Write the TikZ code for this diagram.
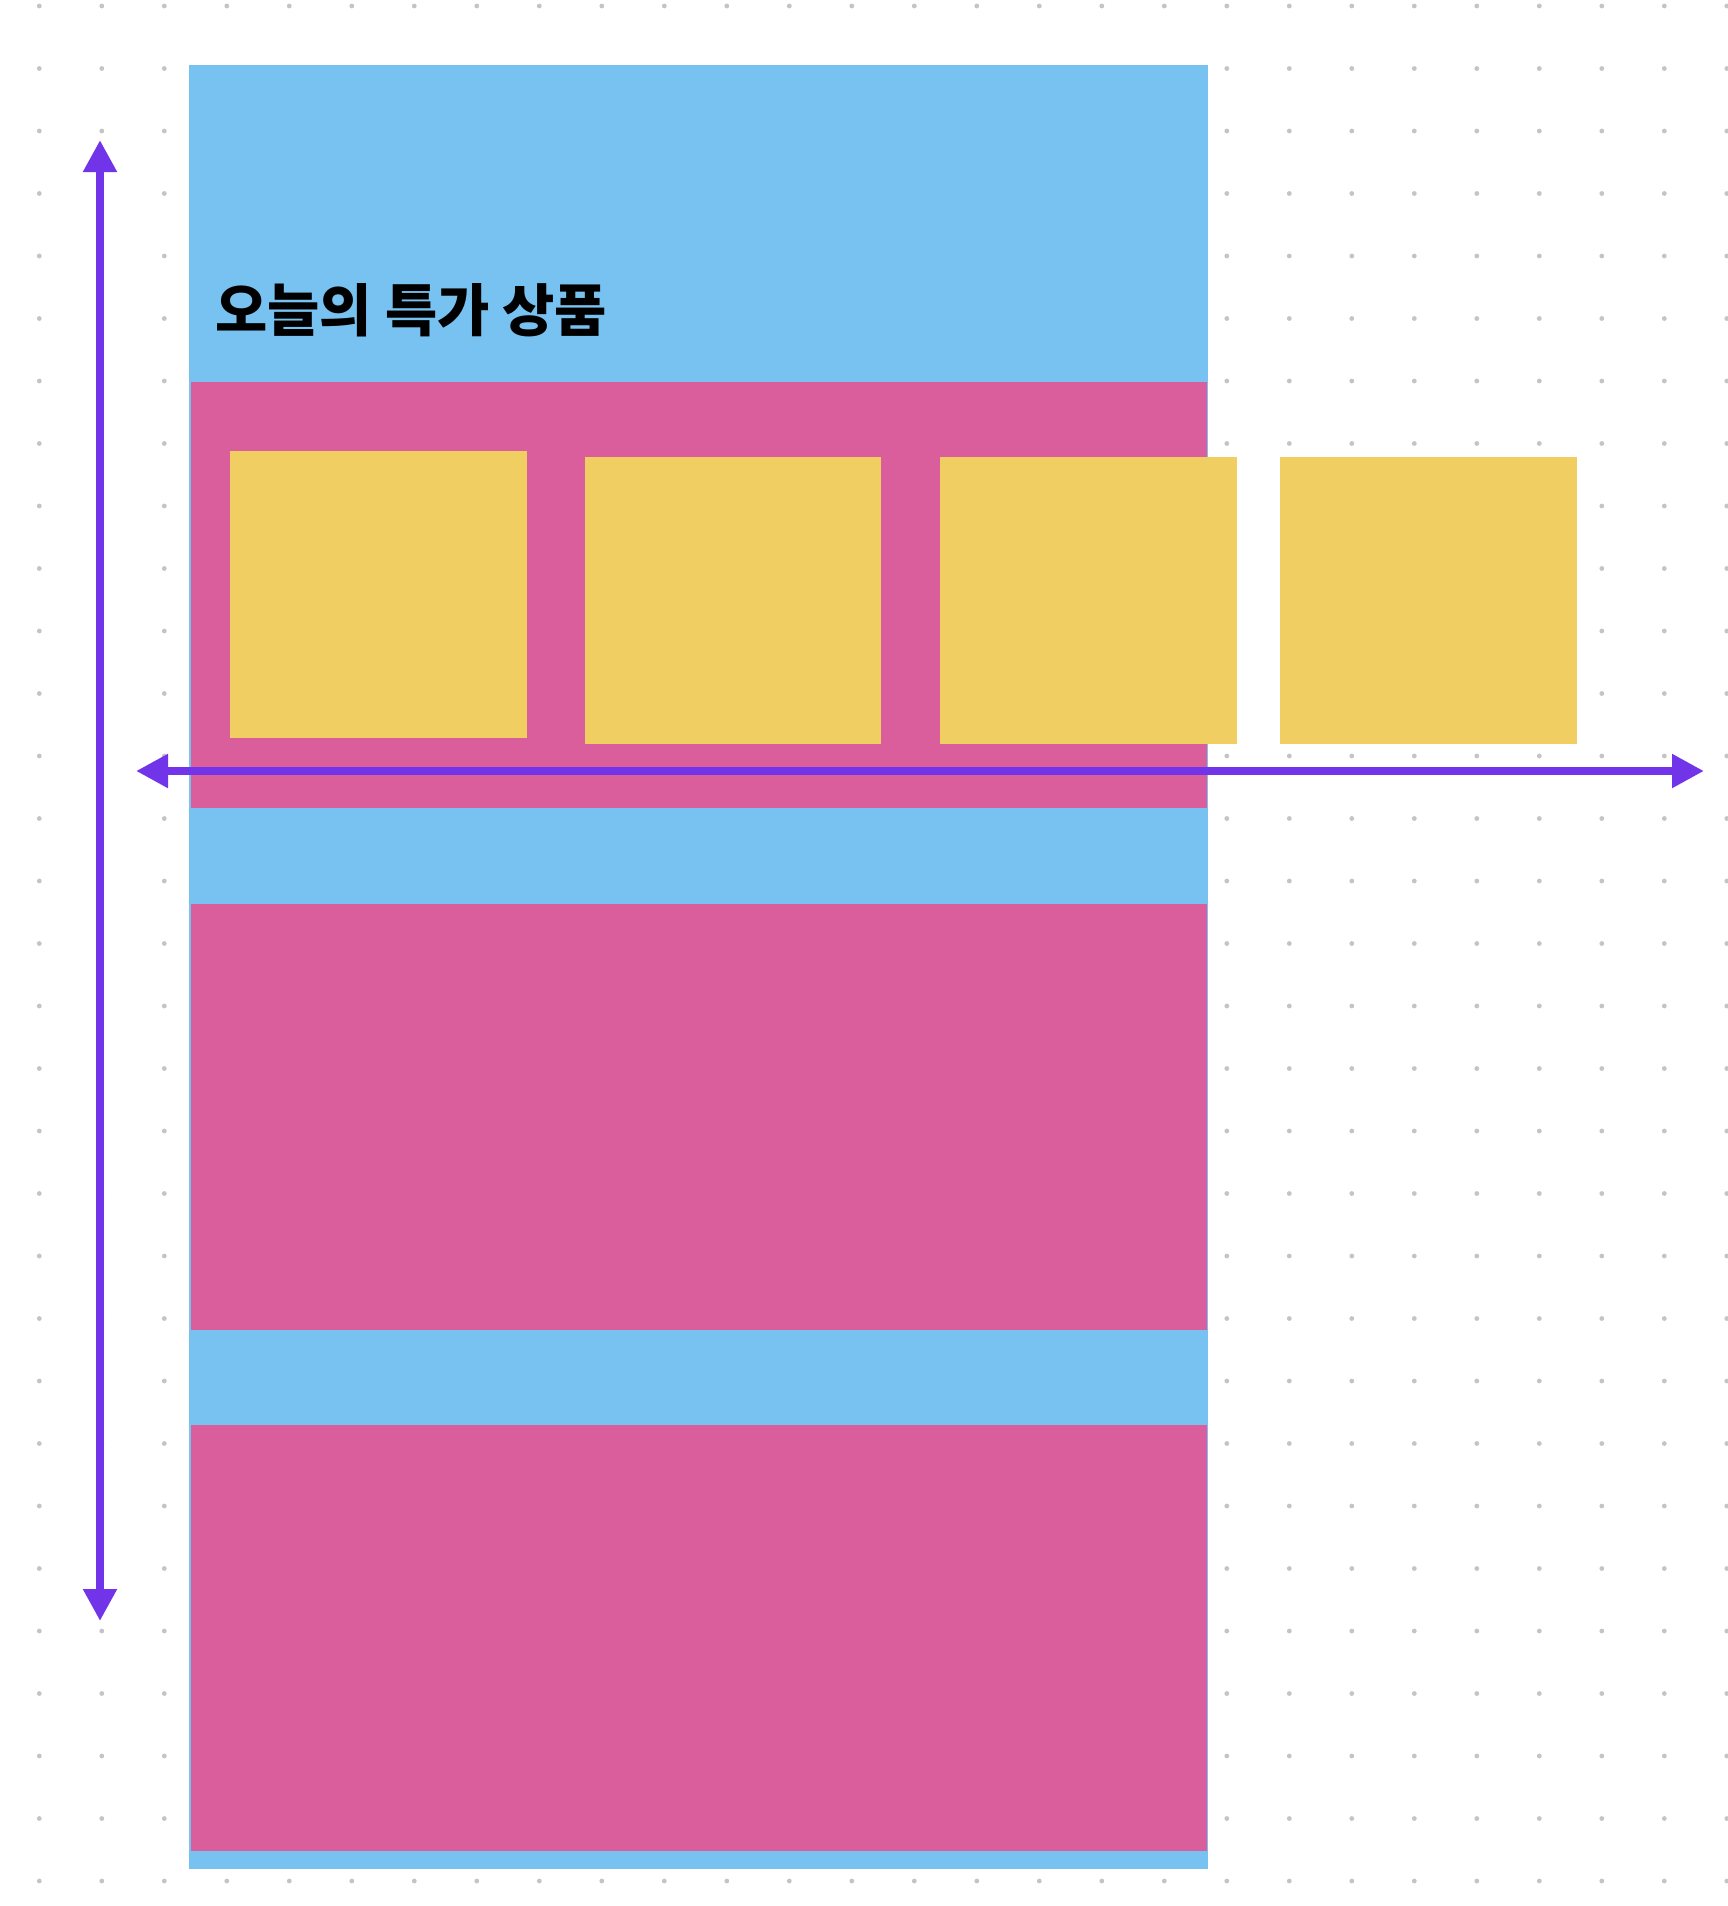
\documentclass[tikz,border=0pt]{standalone}
\usepackage{fontspec}
\newfontfamily\krfont{Noto Sans CJK KR}
\usetikzlibrary{arrows.meta}
\definecolor{screenblue}{RGB}{119,194,240}
\definecolor{bandpink}{RGB}{218,94,156}
\definecolor{cardyellow}{RGB}{240,206,98}
\definecolor{guidepurple}{RGB}{114,52,233}
\definecolor{dotgray}{RGB}{196,196,196}
\tikzset{
  guide/.style={guidepurple, line width=4pt, {Triangle[length=16pt,width=16pt]}-{Triangle[length=16pt,width=16pt]}},
  card/.style={fill=cardyellow}
}

\begin{document}
\begin{tikzpicture}[x=0.5pt, y=-0.5pt]
    \useasboundingbox[fill=white] (0,0) rectangle (1728,1906);
    \foreach \i in {0,...,27}
        \foreach \j in {0,...,30}
            \fill[dotgray] (39.3+62.5*\i, 6+62.5*\j) circle (2.4);
    \fill[screenblue] (189,65) rectangle (1208,1869);
    \foreach \y in {382,904,1425}
        \fill[bandpink] (191,\y) rectangle (1207,\y+426);
    \fill[card] (230,451) rectangle (527,738);
    \fill[card] (585,457) rectangle (881,744);
    \fill[card] (940,457) rectangle (1237,744);
    \fill[card] (1280,457) rectangle (1577,744);
    \node[anchor=base west, inner sep=0pt, font=\krfont\bfseries\fontsize{28.4pt}{32pt}\selectfont] (title) at (215,331) {오늘의 특가 상품};
    \coordinate (top) at (100,140);
    \coordinate (bottom) at (100,1621);
    \coordinate (left) at (136,771);
    \coordinate (right) at (1704,771);
    \draw[guide] (top) -- (bottom);
    \draw[guide] (left) -- (right);
\end{tikzpicture}
\end{document}
